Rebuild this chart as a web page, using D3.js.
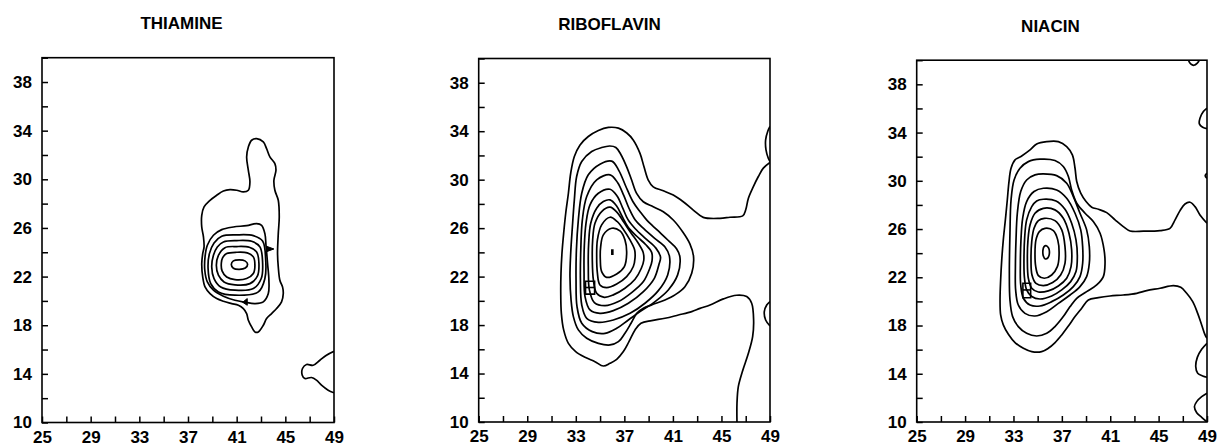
<!DOCTYPE html>
<html><head><meta charset="utf-8">
<script src="https://cdn.jsdelivr.net/npm/d3@7"></script>
<style>
body{margin:0;background:#fff}
svg{display:block}
text{font-family:"Liberation Sans",Arial,sans-serif;font-weight:bold;fill:#000}
</style>
</head><body>
<svg id="chart" width="1220" height="446"></svg>
<script>
// ---------------- DATA ----------------
const titles = ["THIAMINE", "RIBOFLAVIN", "NIACIN"];
const xDomain = [25, 49];
const yDomain = [10, 40];
const xTicks = [25,27,29,31,33,35,37,39,41,43,45,47,49];
const xTickLabels = [25,29,33,37,41,45,49];
const yTicks = [10,12,14,16,18,20,22,24,26,28,30,32,34,36,38,40];
const yTickLabels = [10,14,18,22,26,30,34,38];

// THIAMINE contours (x, y)
const thiamineOuter = [[42.64,33.34],[43.19,33.07],[43.46,32.52],[43.73,31.84],[44.14,31.29],[44.23,30.74],[44.06,29.92],[44.14,29.10],[44.42,28.28],[44.50,26.90],[44.42,25.53],[44.36,23.89],[44.42,22.79],[44.55,21.70],[44.77,21.15],[44.83,20.60],[44.69,19.92],[44.28,19.37],[43.87,18.96],[43.46,18.55],[43.19,18.00],[42.78,17.45],[42.50,17.45],[42.23,17.86],[41.96,18.41],[41.82,18.96],[41.55,19.37],[41.14,19.64],[40.59,19.78],[39.91,19.97],[39.36,20.19],[38.81,20.60],[38.40,21.15],[38.21,21.97],[38.13,23.07],[38.21,23.89],[38.32,24.44],[38.27,25.26],[38.13,26.08],[38.13,27.04],[38.32,27.73],[38.81,28.27],[39.36,28.69],[39.91,29.04],[40.45,29.15],[41.00,29.10],[41.55,28.96],[41.96,29.10],[42.09,29.78],[41.96,30.74],[41.82,31.84],[41.96,32.66],[42.23,33.21]];
const thiamineLevel2 = [[43.41,24.58],[43.32,25.53],[43.05,26.22],[42.64,26.36],[41.82,26.19],[40.73,26.08],[39.77,25.86],[39.09,25.40],[38.59,24.58],[38.40,23.62],[38.38,22.52],[38.59,21.56],[39.09,20.88],[39.91,20.38],[40.86,20.05],[41.68,19.89],[42.50,19.78],[43.19,19.92],[43.60,20.60],[43.65,21.70],[43.54,23.07],[43.46,24.03]];
const thiamineRing4 = [[39.77,25.32],[41.00,25.43],[42.37,25.37],[43.13,24.93],[43.38,23.48],[43.32,21.84],[42.78,20.74],[40.86,20.47],[39.50,20.74],[38.87,21.42],[38.65,22.66],[38.76,23.89],[39.14,24.77]];
const thiamineRing3 = [[39.91,24.85],[41.00,24.96],[42.23,24.90],[42.91,24.44],[43.13,23.21],[43.02,21.84],[42.37,21.01],[40.86,20.88],[39.69,21.15],[39.14,21.84],[38.95,22.79],[39.09,23.75],[39.41,24.44]];
const thiamineRing2 = [[40.04,24.38],[41.00,24.47],[42.04,24.41],[42.64,24.03],[42.83,23.07],[42.70,22.03],[42.09,21.42],[40.86,21.32],[39.96,21.56],[39.50,22.11],[39.33,22.93],[39.50,23.75]];
const thiamineRing1 = [[40.18,23.89],[41.00,24.00],[41.87,23.95],[42.37,23.62],[42.50,22.93],[42.37,22.25],[41.82,21.84],[40.86,21.75],[40.18,21.97],[39.80,22.47],[39.74,23.12],[39.85,23.56]];
const thiamineCenter = [[40.73,23.29],[41.22,23.37],[41.68,23.29],[41.90,23.01],[41.71,22.71],[41.22,22.60],[40.73,22.69],[40.56,22.99]];
const thiamineEdgeLobe = [[49,15.85],[48.38,15.53],[47.84,15.12],[47.29,14.71],[46.74,14.77],[46.41,14.44],[46.39,13.89],[46.60,13.62],[47.15,13.70],[47.56,13.48],[47.97,13.07],[48.52,12.66],[49,12.44]];
const thiamineArrowRight = [[43.46,24.49],[44.06,24.27],[43.46,24.05]];
const thiamineArrowLeft = [[41.87,20.19],[41.49,19.89],[41.87,19.64]];

// RIBOFLAVIN contours
const riboOuter = [[49.00,31.42],[48.45,30.95],[48.04,30.26],[47.63,29.43],[47.22,28.47],[47.00,27.51],[46.75,27.01],[45.70,26.90],[44.88,26.81],[43.50,26.89],[42.68,27.49],[41.85,28.18],[41.03,28.73],[40.21,29.08],[39.38,29.41],[38.97,29.97],[38.62,31.06],[38.29,32.17],[37.73,33.28],[37.20,33.85],[36.51,34.25],[35.68,34.31],[34.86,34.06],[34.03,33.56],[33.35,32.87],[32.88,31.91],[32.58,30.53],[32.39,28.88],[32.17,27.23],[32.00,25.58],[31.86,23.93],[31.78,22.28],[31.76,20.62],[31.81,18.97],[32.00,17.60],[32.39,16.49],[32.99,15.81],[33.76,15.34],[34.58,14.98],[35.27,14.62],[35.82,14.84],[36.37,15.17],[36.92,15.81],[37.38,16.63],[37.88,17.60],[38.37,18.15],[39.25,18.37],[40.35,18.56],[41.45,18.83],[42.55,19.11],[43.23,19.38],[44.06,19.66],[45.16,20.16],[46.25,20.46],[47.08,20.35],[47.49,19.80],[47.65,18.42],[47.57,17.04],[47.22,15.67],[46.72,14.15],[46.39,12.92],[46.28,11.54],[46.28,10.00]];
const riboLevel2 = [[35.80,32.78],[36.30,32.66],[36.70,32.10],[37.19,31.06],[37.60,29.97],[38.01,28.87],[38.56,28.18],[39.38,27.76],[40.21,27.35],[41.03,26.67],[41.80,25.70],[42.40,24.70],[42.70,23.65],[42.55,22.28],[41.99,21.17],[41.17,20.49],[40.35,20.07],[39.25,19.66],[38.57,19.38],[38.02,18.97],[37.55,18.15],[37.05,17.32],[36.51,16.63],[35.82,16.36],[34.86,16.49],[33.90,16.91],[33.21,17.60],[32.80,18.70],[32.61,20.07],[32.52,22.00],[32.58,23.93],[32.72,26.13],[32.88,28.33],[33.07,30.26],[33.49,31.50],[34.31,32.32],[35.13,32.65]];
const riboLevel3 = [[35.96,31.53],[36.55,30.75],[37.10,29.50],[37.70,28.20],[38.30,27.35],[38.85,26.66],[39.70,25.85],[40.60,25.00],[41.30,24.30],[41.58,23.60],[41.39,22.14],[40.62,20.90],[39.53,19.94],[38.29,19.11],[37.33,18.42],[36.37,17.73],[35.41,17.32],[34.36,17.46],[33.49,18.15],[33.10,19.52],[33.02,21.72],[33.05,24.20],[33.21,26.68],[33.49,28.88],[34.03,30.40],[34.99,31.28]];
const riboLevel4 = [[35.82,30.40],[36.45,29.75],[36.95,28.70],[37.40,27.60],[37.90,26.67],[38.60,25.95],[39.50,25.15],[40.35,24.45],[40.72,23.65],[40.57,22.14],[39.80,20.84],[38.70,19.80],[37.47,18.97],[36.09,18.42],[34.86,18.23],[33.90,18.56],[33.49,19.66],[33.38,21.72],[33.41,24.20],[33.54,26.68],[33.90,28.61],[34.72,29.98]];
const riboLevel5 = [[35.82,29.21],[36.40,28.65],[36.85,27.70],[37.30,26.70],[37.90,25.95],[38.80,25.10],[39.60,24.35],[39.98,23.60],[39.85,23.00],[39.47,21.86],[38.57,20.76],[37.33,19.80],[36.09,19.19],[34.99,18.97],[34.17,19.25],[33.76,20.35],[33.68,22.28],[33.70,24.48],[33.84,26.40],[34.17,27.92],[34.86,28.88]];
const riboLevel6 = [[35.82,28.33],[36.35,27.85],[36.80,27.00],[37.30,26.10],[38.00,25.35],[38.75,24.65],[39.25,24.00],[39.28,23.30],[39.10,22.69],[38.57,21.59],[37.60,20.68],[36.51,19.94],[35.41,19.60],[34.53,19.85],[34.12,20.90],[34.03,22.83],[34.06,24.75],[34.23,26.40],[34.72,27.64],[35.27,28.19]];
const riboLevel7 = [[35.82,27.73],[36.40,27.30],[36.95,26.50],[37.55,25.60],[38.15,24.75],[38.55,24.00],[38.60,23.35],[38.40,22.69],[37.88,21.78],[37.05,21.04],[36.09,20.49],[35.35,20.29],[34.72,20.62],[34.45,21.72],[34.36,23.38],[34.39,25.03],[34.58,26.40],[35.13,27.37]];
const riboLevel8 = [[35.82,26.90],[36.40,26.55],[36.95,25.85],[37.45,25.05],[37.85,24.20],[37.88,23.55],[37.74,22.83],[37.19,22.00],[36.37,21.39],[35.54,21.09],[34.99,21.31],[34.78,22.28],[34.72,23.65],[34.78,25.03],[35.13,26.27]];
const riboLevel9 = [[35.96,25.99],[36.64,25.77],[37.05,25.03],[37.19,23.93],[37.00,22.83],[36.37,22.22],[35.54,21.94],[35.13,22.41],[35.02,23.38],[35.05,24.48],[35.27,25.44]];
const riboPeakMark = [[36.01,24.26],[36.01,23.79]];
const riboEdgeLoopTop = [[49,34.39],[48.81,33.98],[48.64,33.29],[48.67,32.46],[48.86,31.77],[49,31.50]];
const riboEdgeLoopLow = [[49,19.94],[48.73,19.66],[48.53,19.11],[48.64,18.42],[49,17.93]];
const riboGlyph = [[33.80,21.62],[34.55,21.62],[34.55,20.55],[33.80,20.55]];
const riboGlyphBar = [[33.80,21.10],[34.55,21.10]];

// NIACIN contours
const niacinOuter = [[49.00,26.48],[48.42,27.17],[48.01,27.86],[47.60,28.22],[47.18,28.08],[46.77,27.53],[46.36,26.76],[45.94,26.06],[45.12,25.87],[43.74,25.82],[42.64,25.84],[42.08,26.20],[41.40,26.76],[40.71,27.36],[40.02,27.64],[39.47,27.81],[39.00,28.28],[38.56,28.97],[38.23,29.94],[38.09,31.04],[37.87,32.15],[37.40,32.84],[36.71,33.25],[35.75,33.25],[34.92,33.06],[34.37,32.56],[33.68,32.06],[33.13,31.73],[32.80,31.04],[32.63,29.94],[32.49,28.41],[32.33,26.76],[32.16,25.10],[32.03,23.44],[31.94,21.78],[31.89,20.12],[31.94,18.88],[32.16,18.05],[32.58,17.27],[33.13,16.58],[33.82,16.11],[34.51,15.83],[35.33,15.83],[35.88,16.11],[36.44,16.58],[36.99,17.22],[37.54,17.96],[38.09,18.74],[38.64,19.43],[39.19,20.12],[40.02,20.31],[40.98,20.45],[42.08,20.53],[43.19,20.67],[44.01,20.89],[45.12,21.09],[46.22,21.31],[46.83,21.17],[47.32,20.67],[47.82,19.98],[48.23,19.01],[48.56,18.05],[48.84,17.22],[49.00,16.94]];
const niacinLevel2 = [[35.19,31.79],[36.43,31.68],[37.12,31.18],[37.54,30.35],[37.81,29.24],[38.23,28.14],[38.92,27.31],[39.60,26.62],[40.16,25.65],[40.49,24.27],[40.57,23.16],[40.43,22.06],[39.88,21.36],[39.05,20.81],[38.23,20.26],[37.68,19.57],[37.12,18.74],[36.43,17.91],[35.75,17.35],[34.92,17.13],[34.09,17.35],[33.40,17.91],[32.93,18.74],[32.71,20.12],[32.66,22.33],[32.71,25.65],[32.80,28.41],[33.05,30.07],[33.54,31.04],[34.23,31.59]];
const niacinLevel3 = [[35.47,30.57],[36.57,30.43],[37.40,29.80],[37.95,28.69],[38.50,27.31],[39.05,25.93],[39.27,24.54],[39.27,23.16],[39.05,22.06],[38.50,21.23],[37.68,20.53],[36.71,19.84],[35.75,19.15],[34.78,18.79],[33.95,19.01],[33.40,19.70],[33.18,20.95],[33.16,22.88],[33.21,25.10],[33.32,27.31],[33.60,29.11],[34.09,30.07],[34.78,30.49]];
const niacinLevel4 = [[35.47,29.38],[36.57,29.24],[37.40,28.55],[38.09,27.31],[38.56,25.93],[38.72,24.54],[38.72,23.16],[38.50,22.06],[37.95,21.23],[37.12,20.53],[36.16,19.98],[35.19,19.62],[34.37,19.70],[33.82,20.26],[33.60,21.36],[33.57,23.16],[33.62,25.10],[33.76,26.89],[34.09,28.28],[34.70,29.11]];
const niacinLevel5 = [[35.47,28.47],[36.52,28.33],[37.26,27.64],[37.81,26.48],[38.17,25.10],[38.28,23.71],[38.17,22.47],[37.73,21.64],[36.99,20.95],[36.16,20.45],[35.19,20.20],[34.51,20.40],[34.09,20.95],[33.90,22.06],[33.87,23.71],[33.93,25.37],[34.09,26.76],[34.51,27.86],[34.92,28.33]];
const niacinLevel6 = [[35.47,27.72],[36.43,27.59],[37.12,26.89],[37.59,25.65],[37.81,24.27],[37.76,22.88],[37.40,21.92],[36.71,21.28],[35.88,20.87],[35.06,20.78],[34.51,21.09],[34.23,21.92],[34.15,23.44],[34.20,25.10],[34.37,26.34],[34.78,27.31]];
const niacinLevel7 = [[35.55,26.89],[36.43,26.70],[36.99,25.93],[37.26,24.54],[37.26,23.16],[36.90,22.19],[36.24,21.56],[35.47,21.31],[34.86,21.50],[34.53,22.19],[34.45,23.44],[34.51,24.96],[34.70,26.06],[35.06,26.70]];
const niacinLevel8 = [[35.61,26.06],[36.30,25.87],[36.66,25.10],[36.77,23.85],[36.63,22.88],[36.16,22.19],[35.55,21.92],[35.06,22.14],[34.84,22.88],[34.78,23.99],[34.86,25.10],[35.14,25.79]];
const niacinCenter = [[35.69,24.63],[35.91,24.41],[35.97,23.99],[35.86,23.63],[35.64,23.52],[35.47,23.77],[35.44,24.27],[35.53,24.54]];
const niacinTopLoop = [[47.46,40],[47.65,39.69],[47.93,39.58],[48.20,39.75],[48.37,40]];
const niacinEdgeLoop1 = [[49,36.02],[48.70,35.74],[48.42,35.19],[48.37,34.72],[48.64,34.44],[49,34.33]];
const niacinEdgeDot = [[49,30.63],[48.85,30.42],[49,30.21]];
const niacinEdgeLoop2 = [[49,16.53],[48.56,16.03],[48.20,15.36],[48.07,14.59],[48.23,14.04],[48.64,13.82],[49,13.71]];
const niacinEdgeLoop3 = [[49,12.38],[48.56,12.10],[48.15,11.69],[47.96,11.27],[48.15,10.77],[48.56,10.39],[49,10.00]];
const niacinGlyph = [[33.78,21.50],[34.42,21.50],[34.42,20.30],[33.78,20.30]];
const niacinGlyphBar = [[33.78,20.95],[34.42,20.95]];

// ---------------- LAYOUT ----------------
const layout = [
  {left:42,    top:57.7, width:292,   height:364.8, titleX:181.5, titleY:29},
  {left:478.7, top:58.5, width:291.3, height:363.5, titleX:609.5, titleY:30},
  {left:916.7, top:60.2, width:290.3, height:361.8, titleX:1050.4, titleY:32}
];

const panels = [
  {closed:[thiamineOuter, thiamineLevel2, thiamineRing4, thiamineRing3, thiamineRing2, thiamineRing1, thiamineCenter],
   open:[thiamineEdgeLobe], filled:[thiamineArrowRight, thiamineArrowLeft], boxes:[], bars:[], marks:[]},
  {closed:[riboLevel2, riboLevel3, riboLevel4, riboLevel5, riboLevel6, riboLevel7, riboLevel8, riboLevel9],
   open:[riboOuter, riboEdgeLoopTop, riboEdgeLoopLow], filled:[], boxes:[riboGlyph], bars:[riboGlyphBar], marks:[riboPeakMark]},
  {closed:[niacinLevel2, niacinLevel3, niacinLevel4, niacinLevel5, niacinLevel6, niacinLevel7, niacinLevel8, niacinCenter],
   open:[niacinOuter, niacinTopLoop, niacinEdgeLoop1, niacinEdgeDot, niacinEdgeLoop2, niacinEdgeLoop3], filled:[], boxes:[niacinGlyph], bars:[niacinGlyphBar], marks:[]}
];

// ---------------- DRAW ----------------
const svg = d3.select("#chart");
const fontSize = 17;

panels.forEach((p, i) => {
  const L = layout[i];
  const x = d3.scaleLinear().domain(xDomain).range([0, L.width]);
  const y = d3.scaleLinear().domain(yDomain).range([L.height, 0]);

  svg.append("text")
    .attr("x", L.titleX).attr("y", L.titleY)
    .attr("text-anchor", "middle")
    .style("font-size", fontSize + "px")
    .text(titles[i]);

  const g = svg.append("g").attr("transform", `translate(${L.left},${L.top})`);

  const clipId = "clip" + i;
  g.append("clipPath").attr("id", clipId)
    .append("rect").attr("x", 0).attr("y", 0).attr("width", L.width).attr("height", L.height);

  const plot = g.append("g").attr("clip-path", `url(#${clipId})`);

  const closedLine = d3.line().x(d => x(d[0])).y(d => y(d[1])).curve(d3.curveCatmullRomClosed.alpha(0.5));
  const openLine = d3.line().x(d => x(d[0])).y(d => y(d[1])).curve(d3.curveCatmullRom.alpha(0.5));
  const polyLine = d3.line().x(d => x(d[0])).y(d => y(d[1])).curve(d3.curveLinearClosed);
  const straight = d3.line().x(d => x(d[0])).y(d => y(d[1]));

  plot.selectAll("path.closed").data(p.closed).join("path")
    .attr("class", "closed").attr("d", closedLine)
    .attr("fill", "none").attr("stroke", "#000").attr("stroke-width", 1.7).attr("stroke-linejoin", "round");

  plot.selectAll("path.open").data(p.open).join("path")
    .attr("class", "open").attr("d", openLine)
    .attr("fill", "none").attr("stroke", "#000").attr("stroke-width", 1.7).attr("stroke-linejoin", "round");

  plot.selectAll("path.filled").data(p.filled).join("path")
    .attr("class", "filled").attr("d", polyLine)
    .attr("fill", "#000").attr("stroke", "#000").attr("stroke-width", 1);

  plot.selectAll("path.box").data(p.boxes).join("path")
    .attr("class", "box").attr("d", polyLine)
    .attr("fill", "none").attr("stroke", "#000").attr("stroke-width", 1.6);

  plot.selectAll("path.bar").data(p.bars).join("path")
    .attr("class", "bar").attr("d", straight)
    .attr("fill", "none").attr("stroke", "#000").attr("stroke-width", 1.6);

  plot.selectAll("path.mark").data(p.marks).join("path")
    .attr("class", "mark").attr("d", straight)
    .attr("fill", "none").attr("stroke", "#000").attr("stroke-width", 2.6);

  // axes
  const xAxis = d3.axisBottom(x).tickValues(xTicks).tickSizeInner(-6).tickSizeOuter(0).tickPadding(8)
    .tickFormat(v => xTickLabels.includes(v) ? String(v) : "");
  const yAxis = d3.axisLeft(y).tickValues(yTicks).tickSizeInner(-6).tickSizeOuter(0).tickPadding(10)
    .tickFormat(v => yTickLabels.includes(v) ? String(v) : "");

  const gx = g.append("g").attr("transform", `translate(0,${L.height})`).call(xAxis);
  const gy = g.append("g").call(yAxis);
  [gx, gy].forEach(a => {
    a.select(".domain").remove();
    a.selectAll(".tick line").attr("stroke", "#000").attr("stroke-width", 1.5);
    a.selectAll(".tick text").attr("fill", "#000")
      .style("font-size", fontSize + "px")
      .style("font-family", '"Liberation Sans", Arial, sans-serif')
      .style("font-weight", "bold");
  });

  // frame
  g.append("rect").attr("x", 0).attr("y", 0).attr("width", L.width).attr("height", L.height)
    .attr("fill", "none").attr("stroke", "#000").attr("stroke-width", 1.6);
});
</script>
</body></html>
